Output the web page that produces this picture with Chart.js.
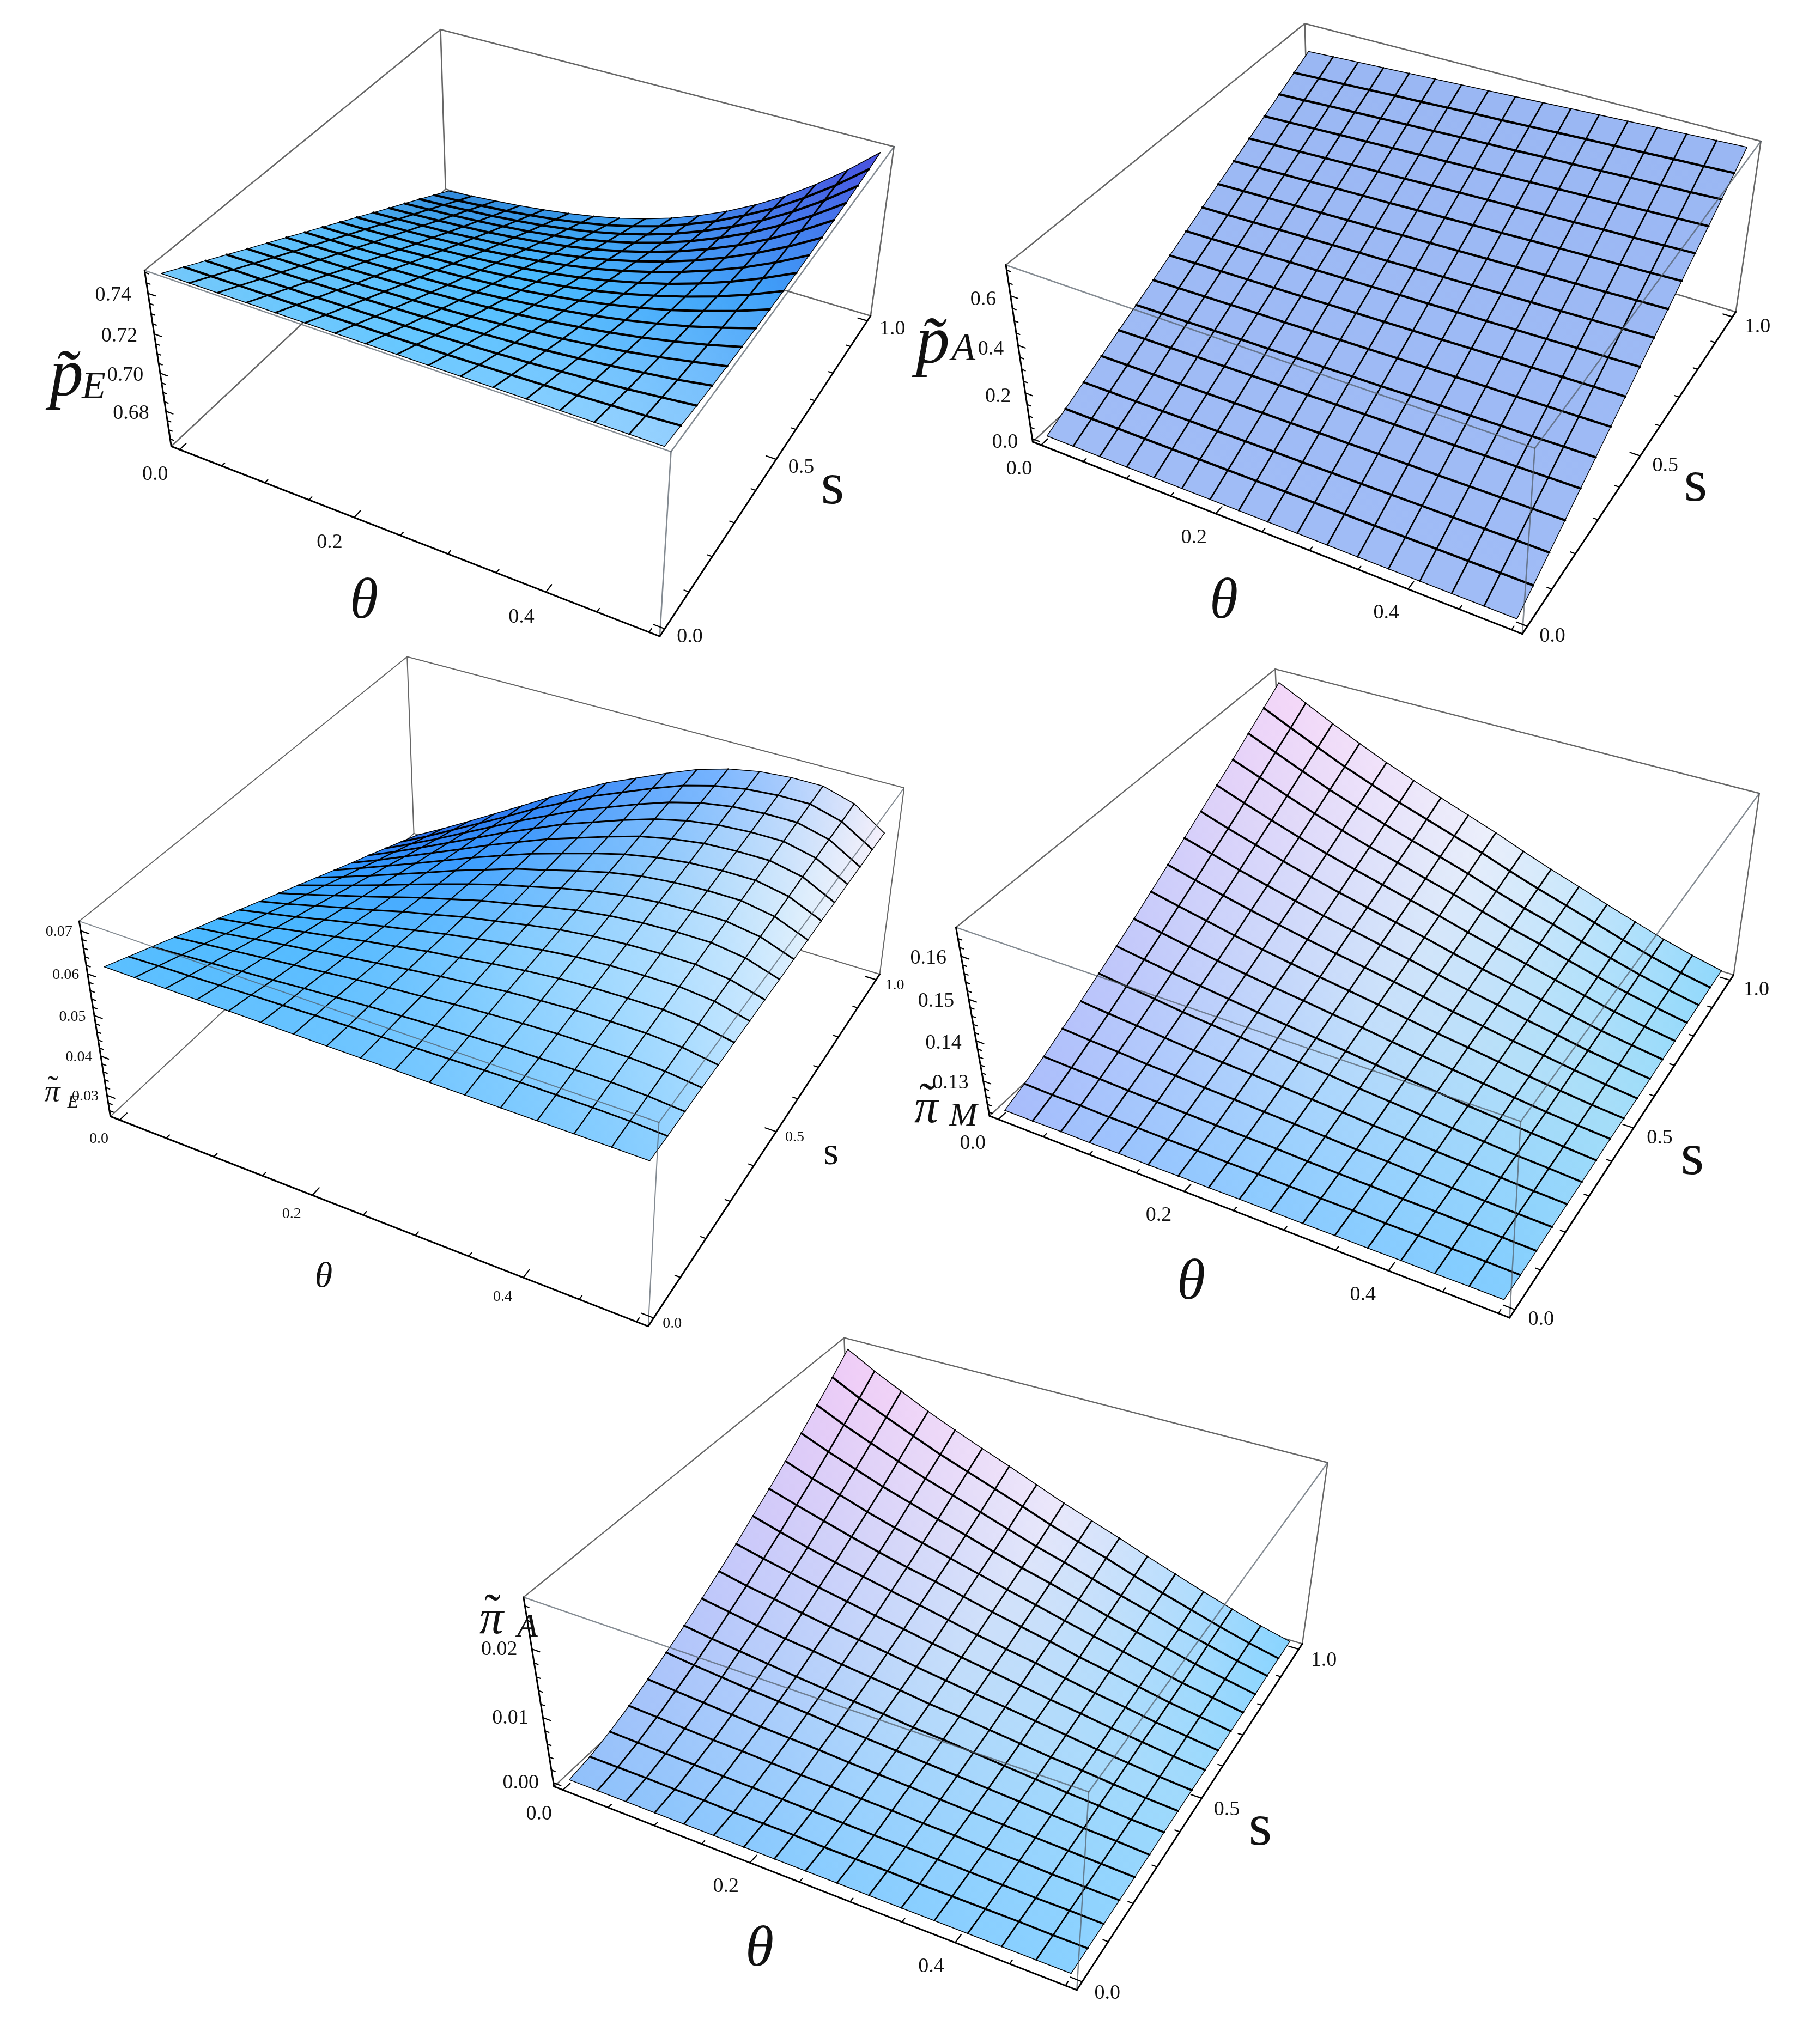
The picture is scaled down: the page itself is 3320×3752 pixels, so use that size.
<!DOCTYPE html>
<html>
<head>
<meta charset="utf-8">
<title>Surfaces</title>
<script src="https://cdn.jsdelivr.net/npm/chart.js@4"></script>
<style>
html, body { margin: 0; background: #fff; width: 3320px; height: 3752px; overflow: hidden; }
canvas { position: absolute; filter: blur(0.7px); }
</style>
</head>
<body>
<script>
"use strict"

// mesh positions, same for all five plots
const thetaGrid = [0, 0.03125, 0.0625, 0.09375, 0.125, 0.15625, 0.1875, 0.21875, 0.25, 0.28125, 0.3125, 0.34375, 0.375, 0.40625, 0.4375, 0.46875, 0.5]
const sGrid = [0, 0.0625, 0.125, 0.1875, 0.25, 0.3125, 0.375, 0.4375, 0.5, 0.5625, 0.625, 0.6875, 0.75, 0.8125, 0.875, 0.9375, 1]

const thetaMajor = [0, 0.2, 0.4]
const thetaMinor = [0.05, 0.1, 0.15, 0.25, 0.3, 0.35, 0.45, 0.5]
const sMajor = [0, 0.5, 1]
const sMinor = [0.1, 0.2, 0.3, 0.4, 0.6, 0.7, 0.8, 0.9]

// rows are s, columns are theta
const pEValues = [
	[.7483,.7483,.7483,.7483,.7483,.7483,.7483,.7483,.7483,.7483,.7483,.7483,.7483,.7483,.7483,.7483,.7483],
	[.7430,.7430,.7431,.7431,.7432,.7432,.7434,.7435,.7437,.7439,.7442,.7446,.7450,.7455,.7461,.7467,.7476],
	[.7377,.7378,.7378,.7379,.7380,.7382,.7384,.7387,.7391,.7396,.7402,.7409,.7418,.7428,.7439,.7453,.7468],
	[.7324,.7325,.7326,.7327,.7330,.7332,.7336,.7340,.7346,.7354,.7362,.7374,.7387,.7402,.7420,.7439,.7463],
	[.7271,.7272,.7274,.7276,.7278,.7283,.7287,.7293,.7301,.7312,.7324,.7338,.7356,.7376,.7400,.7428,.7458],
	[.7219,.7220,.7222,.7224,.7228,.7233,.7239,.7247,.7258,.7271,.7286,.7305,.7327,.7352,.7382,.7416,.7455],
	[.7166,.7168,.7171,.7174,.7179,.7184,.7191,.7201,.7214,.7230,.7249,.7271,.7298,.7329,.7364,.7406,.7452],
	[.7113,.7116,.7119,.7122,.7128,.7136,.7145,.7157,.7171,.7190,.7212,.7239,.7270,.7306,.7349,.7397,.7452],
	[.7060,.7063,.7067,.7072,.7079,.7087,.7097,.7111,.7129,.7150,.7175,.7206,.7243,.7285,.7333,.7388,.7452],
	[.7007,.7011,.7017,.7021,.7030,.7039,.7052,.7068,.7087,.7111,.7141,.7176,.7216,.7264,.7319,.7382,.7453],
	[.6954,.6959,.6965,.6972,.6981,.6991,.7006,.7024,.7046,.7073,.7106,.7146,.7192,.7245,.7305,.7375,.7455],
	[.6901,.6907,.6914,.6921,.6932,.6944,.6960,.6980,.7006,.7036,.7073,.7116,.7167,.7226,.7294,.7371,.7458],
	[.6848,.6855,.6863,.6872,.6883,.6898,.6916,.6938,.6965,.6999,.7039,.7087,.7143,.7207,.7282,.7367,.7463],
	[.6796,.6804,.6812,.6823,.6836,.6851,.6871,.6895,.6926,.6963,.7007,.7059,.7121,.7190,.7272,.7364,.7468],
	[.6743,.6751,.6762,.6773,.6788,.6805,.6827,.6854,.6887,.6927,.6975,.7032,.7098,.7174,.7262,.7362,.7475],
	[.6690,.6699,.6711,.6723,.6740,.6759,.6783,.6812,.6849,.6892,.6945,.7005,.7078,.7159,.7255,.7362,.7483],
	[.6637,.6648,.6661,.6675,.6693,.6714,.6740,.6772,.6811,.6858,.6914,.6980,.7057,.7145,.7247,.7362,.7492],
]

const pAValues = [
	[0,0,0,0,0,0,0,0,0,0,0,0,0,0,0,0,0],
	[.039,.039,.040,.040,.040,.041,.041,.041,.042,.042,.042,.042,.043,.043,.043,.044,.044],
	[.078,.079,.079,.080,.081,.081,.082,.083,.083,.084,.084,.085,.086,.086,.087,.088,.088],
	[.117,.118,.119,.120,.121,.122,.123,.124,.125,.126,.127,.128,.128,.129,.130,.131,.132],
	[.156,.158,.159,.160,.161,.163,.164,.165,.166,.168,.169,.170,.171,.173,.174,.175,.176],
	[.195,.197,.198,.200,.202,.203,.205,.206,.208,.209,.211,.213,.214,.216,.217,.219,.220],
	[.234,.236,.238,.240,.242,.243,.245,.247,.249,.251,.253,.255,.257,.258,.260,.262,.264],
	[.273,.276,.278,.280,.282,.284,.287,.289,.291,.293,.295,.298,.300,.302,.304,.306,.308],
	[.313,.315,.318,.320,.323,.325,.328,.330,.333,.335,.338,.340,.343,.345,.348,.350,.353],
	[.352,.354,.357,.360,.363,.366,.369,.371,.374,.377,.380,.383,.386,.388,.391,.394,.397],
	[.391,.394,.397,.400,.403,.406,.409,.413,.416,.419,.422,.425,.428,.431,.434,.438,.441],
	[.430,.433,.437,.440,.444,.447,.450,.454,.457,.461,.464,.468,.471,.474,.478,.481,.485],
	[.469,.473,.476,.480,.484,.488,.491,.495,.499,.503,.506,.510,.514,.518,.521,.525,.529],
	[.508,.512,.516,.520,.524,.528,.532,.536,.540,.544,.548,.552,.556,.560,.565,.569,.573],
	[.547,.551,.556,.560,.564,.569,.573,.578,.582,.586,.591,.595,.599,.604,.608,.612,.617],
	[.586,.591,.595,.600,.605,.609,.614,.619,.623,.628,.633,.638,.642,.647,.652,.656,.661],
	[.625,.630,.635,.640,.645,.650,.655,.660,.665,.670,.675,.680,.685,.690,.695,.700,.705],
]

const piEValues = [
	[.0610,.0610,.0610,.0610,.0610,.0610,.0610,.0610,.0610,.0610,.0610,.0610,.0610,.0610,.0610,.0610,.0610],
	[.0588,.0591,.0593,.0596,.0599,.0601,.0604,.0606,.0608,.0610,.0612,.0614,.0615,.0615,.0615,.0614,.0610],
	[.0566,.0571,.0576,.0582,.0587,.0593,.0598,.0603,.0607,.0611,.0615,.0618,.0619,.0620,.0620,.0617,.0611],
	[.0544,.0552,.0560,.0568,.0576,.0584,.0592,.0599,.0605,.0612,.0617,.0621,.0624,.0625,.0625,.0621,.0612],
	[.0522,.0532,.0543,.0554,.0564,.0575,.0585,.0595,.0604,.0612,.0620,.0625,.0629,.0630,.0630,.0625,.0612],
	[.0501,.0513,.0526,.0540,.0553,.0567,.0579,.0592,.0602,.0613,.0622,.0629,.0633,.0635,.0635,.0628,.0613],
	[.0479,.0494,.0509,.0526,.0542,.0558,.0573,.0588,.0601,.0613,.0624,.0633,.0638,.0640,.0640,.0632,.0613],
	[.0457,.0474,.0493,.0512,.0530,.0550,.0567,.0585,.0599,.0614,.0627,.0636,.0642,.0645,.0645,.0635,.0614],
	[.0435,.0455,.0476,.0497,.0519,.0541,.0561,.0581,.0597,.0614,.0629,.0640,.0647,.0650,.0650,.0639,.0614],
	[.0413,.0436,.0459,.0483,.0508,.0532,.0555,.0577,.0596,.0615,.0631,.0644,.0652,.0655,.0655,.0643,.0615],
	[.0391,.0416,.0442,.0469,.0496,.0524,.0549,.0574,.0594,.0615,.0634,.0648,.0656,.0660,.0660,.0646,.0615],
	[.0369,.0397,.0426,.0455,.0485,.0515,.0543,.0570,.0593,.0616,.0636,.0651,.0661,.0665,.0665,.0650,.0616],
	[.0347,.0377,.0409,.0441,.0473,.0506,.0536,.0566,.0591,.0616,.0639,.0655,.0666,.0670,.0670,.0654,.0616],
	[.0326,.0358,.0392,.0427,.0462,.0498,.0530,.0563,.0590,.0617,.0641,.0659,.0670,.0675,.0675,.0657,.0617],
	[.0304,.0339,.0375,.0413,.0451,.0489,.0524,.0559,.0588,.0617,.0643,.0663,.0675,.0680,.0680,.0661,.0617],
	[.0282,.0319,.0359,.0399,.0439,.0481,.0518,.0556,.0587,.0618,.0646,.0666,.0679,.0685,.0685,.0664,.0618],
	[.0260,.0300,.0342,.0385,.0428,.0472,.0512,.0552,.0585,.0618,.0648,.0670,.0684,.0690,.0690,.0668,.0618],
]

const piMValues = [
	[.1217,.1217,.1218,.1218,.1219,.1219,.1220,.1220,.1221,.1221,.1221,.1222,.1222,.1223,.1223,.1224,.1224],
	[.1235,.1233,.1233,.1231,.1231,.1230,.1230,.1229,.1229,.1228,.1227,.1227,.1226,.1226,.1225,.1225,.1224],
	[.1256,.1253,.1251,.1248,.1246,.1244,.1242,.1240,.1239,.1236,.1234,.1233,.1230,.1229,.1227,.1226,.1224],
	[.1280,.1275,.1271,.1266,.1263,.1259,.1256,.1252,.1249,.1245,.1241,.1239,.1235,.1232,.1229,.1227,.1225],
	[.1304,.1297,.1291,.1285,.1279,.1274,.1270,.1265,.1260,.1255,.1249,.1245,.1240,.1236,.1232,.1228,.1225],
	[.1330,.1321,.1313,.1304,.1297,.1290,.1284,.1278,.1272,.1264,.1258,.1252,.1246,.1240,.1234,.1230,.1225],
	[.1356,.1345,.1335,.1325,.1316,.1307,.1299,.1291,.1284,.1275,.1266,.1259,.1251,.1244,.1237,.1231,.1225],
	[.1383,.1370,.1357,.1345,.1334,.1324,.1315,.1305,.1296,.1285,.1275,.1266,.1257,.1248,.1239,.1232,.1226],
	[.1411,.1396,.1381,.1366,.1353,.1341,.1330,.1319,.1308,.1296,.1284,.1274,.1263,.1252,.1242,.1233,.1226],
	[.1439,.1421,.1404,.1388,.1373,.1359,.1346,.1334,.1321,.1307,.1293,.1281,.1268,.1257,.1245,.1235,.1226],
	[.1468,.1448,.1428,.1410,.1393,.1377,.1363,.1348,.1334,.1318,.1303,.1289,.1274,.1261,.1247,.1236,.1226],
	[.1497,.1474,.1453,.1432,.1413,.1395,.1379,.1363,.1347,.1329,.1312,.1297,.1281,.1265,.1250,.1238,.1227],
	[.1526,.1501,.1477,.1454,.1433,.1414,.1396,.1378,.1360,.1340,.1322,.1305,.1287,.1270,.1253,.1239,.1227],
	[.1555,.1529,.1502,.1477,.1454,.1432,.1413,.1393,.1374,.1352,.1331,.1313,.1293,.1274,.1256,.1241,.1227],
	[.1586,.1557,.1528,.1500,.1475,.1452,.1430,.1409,.1387,.1363,.1341,.1321,.1299,.1279,.1259,.1242,.1227],
	[.1616,.1584,.1553,.1523,.1496,.1470,.1447,.1424,.1401,.1375,.1351,.1329,.1306,.1283,.1262,.1243,.1228],
	[.1647,.1613,.1579,.1547,.1517,.1490,.1465,.1440,.1415,.1387,.1361,.1337,.1312,.1288,.1265,.1245,.1228],
]

const piAValues = [
	[0,0,0,0,0,0,0,0,0,0,0,0,0,0,0,0,0],
	[.0005,.0005,.0005,.0004,.0004,.0003,.0003,.0003,.0002,.0002,.0002,.0001,.0001,.0001,.0001,0,0],
	[.0014,.0013,.0012,.0011,.0010,.0009,.0008,.0007,.0006,.0005,.0005,.0004,.0003,.0002,.0001,.0001,0],
	[.0025,.0023,.0021,.0019,.0018,.0016,.0014,.0013,.0011,.0010,.0008,.0007,.0005,.0004,.0002,.0001,0],
	[.0038,.0035,.0032,.0029,.0026,.0024,.0022,.0019,.0017,.0015,.0012,.0010,.0008,.0006,.0004,.0002,0],
	[.0052,.0047,.0043,.0039,.0036,.0033,.0029,.0026,.0023,.0020,.0017,.0014,.0011,.0008,.0005,.0003,0],
	[.0067,.0061,.0056,.0051,.0046,.0042,.0038,.0034,.0029,.0026,.0022,.0018,.0014,.0010,.0007,.0003,.0001],
	[.0083,.0076,.0069,.0063,.0058,.0052,.0047,.0042,.0036,.0032,.0027,.0022,.0017,.0013,.0008,.0004,.0001],
	[.0100,.0091,.0084,.0076,.0069,.0063,.0057,.0050,.0044,.0038,.0033,.0027,.0021,.0015,.0010,.0005,.0001],
	[.0118,.0108,.0099,.0090,.0082,.0074,.0067,.0059,.0052,.0045,.0038,.0031,.0025,.0018,.0012,.0006,.0001],
	[.0137,.0125,.0114,.0104,.0095,.0086,.0078,.0069,.0060,.0052,.0045,.0036,.0028,.0021,.0013,.0007,.0001],
	[.0156,.0143,.0131,.0119,.0108,.0098,.0089,.0079,.0069,.0060,.0051,.0041,.0033,.0024,.0015,.0008,.0001],
	[.0176,.0161,.0148,.0134,.0122,.0111,.0100,.0089,.0078,.0068,.0057,.0047,.0037,.0027,.0017,.0009,.0001],
	[.0197,.0180,.0165,.0150,.0137,.0124,.0112,.0099,.0087,.0076,.0064,.0052,.0041,.0030,.0019,.0010,.0001],
	[.0219,.0200,.0183,.0167,.0152,.0138,.0124,.0110,.0096,.0084,.0071,.0058,.0046,.0033,.0022,.0011,.0002],
	[.0241,.0220,.0202,.0184,.0167,.0152,.0137,.0122,.0106,.0092,.0079,.0064,.0050,.0037,.0024,.0012,.0002],
	[.0264,.0241,.0221,.0201,.0183,.0166,.0150,.0133,.0116,.0101,.0086,.0070,.0055,.0040,.0026,.0013,.0002],
]

const serif = '"Liberation Serif"'

// corners are screen positions of the box: 000 100 110 001 101 111 011 in (theta, s, z)
const panels = [
	{
		rect: [0, 0, 1660, 1200],
		corners: [[314, 818], [1211, 1168], [1598, 581], [265, 498], [1232, 829], [1640, 268], [809, 54]],
		zRange: [0.661, 0.751], values: pEValues, digits: 2,
		zMajor: [0.68, 0.7, 0.72, 0.74],
		zMinor: [0.665, 0.67, 0.675, 0.685, 0.69, 0.695, 0.705, 0.71, 0.715, 0.725, 0.73, 0.735, 0.745, 0.75],
		colors: [
			["#74c8fa", "#6ac8ff", "#9cd4ff"],
			["#56bcfa", "#4abcff", "#3e9ef8"],
			["#2f86d8", "#3a9cf0", "#4a50e0"],
		],
		sWidth: 4.2, thetaWidth: 3, boxWidth: 2.6, tickFont: 38,
		thetaOffset: [-45, 46], sOffset: [46, 15], zOffset: [-64, 4],
		titles: [
			["p\u0303", 122, 692, 124, "italic"], ["E", 172, 712, 72, "italic"],
			["\u03b8", 668, 1106, 106, "italic"], ["s", 1528, 895, 110, "normal"],
		],
	},
	{
		rect: [1660, 0, 1660, 1200],
		corners: [[1895, 810], [2795, 1164], [3185, 573], [1846, 488], [2816, 822], [3232, 259], [2395, 43]],
		zRange: [-0.014, 0.72], values: pAValues, digits: 1,
		zMajor: [0, 0.2, 0.4, 0.6],
		zMinor: [0.05, 0.1, 0.15, 0.25, 0.3, 0.35, 0.45, 0.5, 0.55, 0.65, 0.7],
		colors: [
			["#a0bcf6", "#a0bcf6"],
			["#9ab7f3", "#9ab7f3"],
		],
		sWidth: 4.2, thetaWidth: 2.8, boxWidth: 2.6, tickFont: 38,
		thetaOffset: [-40, 44], sOffset: [46, 18], zOffset: [-50, 7],
		titles: [
			["p\u0303", 1712, 632, 124, "italic"], ["A", 1768, 642, 72, "italic"],
			["\u03b8", 2246, 1106, 106, "italic"], ["s", 3112, 890, 110, "normal"],
		],
	},
	{
		rect: [0, 1190, 1660, 1270],
		corners: [[202, 2047], [1191, 2435], [1614, 1790], [145, 1694], [1209, 2059], [1659, 1445], [748, 1205]],
		zRange: [0.0245, 0.0722], values: piEValues, digits: 2,
		zMajor: [0.03, 0.04, 0.05, 0.06, 0.07],
		zMinor: [0.026, 0.028, 0.032, 0.034, 0.036, 0.038, 0.042, 0.044, 0.046, 0.048, 0.052, 0.054, 0.056, 0.058, 0.062, 0.064, 0.066, 0.068],
		colors: [
			["#5cc0ff", "#66c2ff", "#78c8ff", "#84ccff"],
			["#40b4ff", "#58baff", "#98d6ff", "#bfe4ff"],
			["#2f9aff", "#3a9cff", "#8cc8fc", "#e6f2fc"],
			["#2868e8", "#2f80f4", "#70b0ff", "#f6f0fa"],
		],
		sWidth: 3, thetaWidth: 2.2, boxWidth: 2, tickFont: 28,
		thetaOffset: [-38, 35], sOffset: [34, 10], zOffset: [-40, 2],
		titles: [
			["\u03c0", 96, 2006, 58, "italic"], ["\u02dc", 97, 1999, 58, "normal"], ["E", 134, 2024, 34, "italic"],
			["\u03b8", 594, 2345, 66, "italic"], ["s", 1525, 2118, 72, "normal"],
		],
	},
	{
		rect: [1660, 1200, 1660, 1270],
		corners: [[1817, 2049], [2769, 2420], [3182, 1788], [1754, 1702], [2792, 2057], [3229, 1458], [2340, 1228]],
		zRange: [0.121, 0.1665], values: piMValues, digits: 2,
		zMajor: [0.13, 0.14, 0.15, 0.16],
		zMinor: [0.122, 0.124, 0.126, 0.128, 0.132, 0.134, 0.136, 0.138, 0.142, 0.144, 0.146, 0.148, 0.152, 0.154, 0.156, 0.158, 0.162, 0.164],
		colors: [
			["#a8bcfb", "#8ccaff", "#80ccff"],
			["#ccccfa", "#c8e0fa", "#a4def8"],
			["#f5d6f8", "#ecf0fb", "#90d8fc"],
		],
		sWidth: 3.6, thetaWidth: 2.8, boxWidth: 2.4, tickFont: 38,
		thetaOffset: [-47, 44], sOffset: [48, 18], zOffset: [-60, 4],
		titles: [
			["\u03c0", 1700, 2037, 88, "italic"], ["\u02dc", 1702, 2026, 88, "normal"], ["M", 1768, 2050, 62, "italic"],
			["\u03b8", 2186, 2356, 106, "italic"], ["s", 3106, 2126, 110, "normal"],
		],
	},
	{
		rect: [800, 2430, 1720, 1322],
		corners: [[1018, 3279], [1975, 3655], [2390, 3016], [960, 2933], [1999, 3286], [2437, 2687], [1549, 2455]],
		zRange: [-0.0006, 0.0272], values: piAValues, digits: 2,
		zMajor: [0, 0.01, 0.02],
		zMinor: [0.002, 0.004, 0.006, 0.008, 0.012, 0.014, 0.016, 0.018, 0.022, 0.024, 0.026],
		colors: [
			["#90c0fa", "#88ccff", "#88d0ff"],
			["#c4c8fa", "#c0dcfa", "#a0dafc"],
			["#f2ccf6", "#ece8fa", "#88d4ff"],
		],
		sWidth: 3.6, thetaWidth: 2.8, boxWidth: 2.4, tickFont: 38,
		thetaOffset: [-44, 44], sOffset: [46, 21], zOffset: [-60, 1],
		titles: [
			["\u03c0", 902, 2975, 88, "italic"], ["\u02dc", 904, 2964, 88, "normal"], ["A", 968, 2988, 62, "italic"],
			["\u03b8", 1394, 3580, 106, "italic"], ["s", 2313, 3357, 110, "normal"],
		],
	},
]

const cube = [[0, 0, 0], [1, 0, 0], [1, 1, 0], [0, 0, 1], [1, 0, 1], [1, 1, 1], [0, 1, 1]]

// least squares fit of a projective camera through the box corners
function fitCamera(corners) {
	const n = 11
	const ata = Array.from({ length: n }, () => new Array(n + 1).fill(0))
	function addRow(row, rhs) {
		for (let a = 0; a < n; a++) {
			for (let b = 0; b < n; b++) ata[a][b] += row[a] * row[b]
			ata[a][n] += row[a] * rhs
		}
	}
	cube.forEach((c, k) => {
		const [u, v, w] = c
		const x = corners[k][0] / 1000
		const y = corners[k][1] / 1000
		addRow([u, v, w, 1, 0, 0, 0, 0, -x * u, -x * v, -x * w], x)
		addRow([0, 0, 0, 0, u, v, w, 1, -y * u, -y * v, -y * w], y)
	})
	for (let i = 0; i < n; i++) {
		let pivot = i
		for (let r = i + 1; r < n; r++) if (Math.abs(ata[r][i]) > Math.abs(ata[pivot][i])) pivot = r
		const tmp = ata[i]
		ata[i] = ata[pivot]
		ata[pivot] = tmp
		for (let r = 0; r < n; r++) {
			if (r === i) continue
			const f = ata[r][i] / ata[i][i]
			for (let c = i; c <= n; c++) ata[r][c] -= f * ata[i][c]
		}
	}
	const m = ata.map((row, i) => row[n] / row[i])
	return (u, v, w) => {
		const d = m[8] * u + m[9] * v + m[10] * w + 1
		return {
			x: (1000 * (m[0] * u + m[1] * v + m[2] * w + m[3])) / d,
			y: (1000 * (m[4] * u + m[5] * v + m[6] * w + m[7])) / d,
		}
	}
}

function hex(c) {
	return [1, 3, 5].map((p) => parseInt(c.substr(p, 2), 16))
}

// colour at (t, s), both 0..1, from the panel's coarse colour table
function shade(table, t, s) {
	const rows = table.length - 1
	const cols = table[0].length - 1
	const r = Math.min(Math.floor(s * rows), rows - 1)
	const c = Math.min(Math.floor(t * cols), cols - 1)
	const fr = s * rows - r
	const fc = t * cols - c
	const out = [0, 1, 2].map((k) => {
		const low = hex(table[r][c])[k] * (1 - fc) + hex(table[r][c + 1])[k] * fc
		const high = hex(table[r + 1][c])[k] * (1 - fc) + hex(table[r + 1][c + 1])[k] * fc
		return Math.round(low * (1 - fr) + high * fr)
	})
	return `rgb(${out[0]},${out[1]},${out[2]})`
}

function lineSet(data, color, width) {
	return { data, showLine: true, fill: false, borderColor: color, borderWidth: width, pointRadius: 0, tension: 0, borderCapStyle: "round" }
}

function buildPanel(panel) {
	const [left, top, width, height] = panel.rect
	const canvas = document.createElement("canvas")
	canvas.width = width
	canvas.height = height
	canvas.style.left = left + "px"
	canvas.style.top = top + "px"
	canvas.style.width = width + "px"
	canvas.style.height = height + "px"
	document.body.appendChild(canvas)
	const ctx = canvas.getContext("2d")

	const camera = fitCamera(panel.corners)
	const [zMin, zMax] = panel.zRange
	const uOf = (theta) => (theta / 0.5 + 0.02) / 1.04
	const vOf = (s) => (s + 0.02) / 1.04
	const wOf = (z) => (z - zMin) / (zMax - zMin)
	const meshPoint = (i, j) => camera(uOf(thetaGrid[i]), vOf(sGrid[j]), wOf(panel.values[j][i]))

	const painted = []
	const gray = "#666"
	const edge = (a, b, color, w) => painted.push(lineSet([camera(...a), camera(...b)], color, w))

	// box edges behind the surface
	edge([0, 1, 0], [0, 0, 0], gray, panel.boxWidth)
	edge([0, 1, 0], [1, 1, 0], gray, panel.boxWidth)
	edge([0, 1, 0], [0, 1, 1], gray, panel.boxWidth)
	edge([0, 1, 1], [0, 0, 1], gray, panel.boxWidth)
	edge([0, 1, 1], [1, 1, 1], gray, panel.boxWidth)
	edge([1, 1, 0], [1, 1, 1], gray, panel.boxWidth)

	// surface cells, far ones first
	for (let j = sGrid.length - 2; j >= 0; j--) {
		for (let i = 0; i < thetaGrid.length - 1; i++) {
			const a = meshPoint(i, j)
			const b = meshPoint(i + 1, j)
			const c = meshPoint(i + 1, j + 1)
			const d = meshPoint(i, j + 1)
			const grad = ctx.createLinearGradient(a.x - left, a.y - top, c.x - left, c.y - top)
			grad.addColorStop(0, shade(panel.colors, i / 16, j / 16))
			grad.addColorStop(1, shade(panel.colors, (i + 1) / 16, (j + 1) / 16))
			painted.push({
				data: [a, b, c, d, a],
				showLine: true,
				fill: "shape",
				backgroundColor: grad,
				borderColor: grad,
				borderWidth: 0.6,
				pointRadius: 0,
				tension: 0,
			})
		}
	}

	// mesh lines
	sGrid.forEach((s, j) => {
		const outer = j === 0 || j === sGrid.length - 1
		painted.push(lineSet(thetaGrid.map((t, i) => meshPoint(i, j)), "#000", outer ? 1.6 : panel.sWidth))
	})
	thetaGrid.forEach((t, i) => {
		const outer = i === 0 || i === thetaGrid.length - 1
		painted.push(lineSet(sGrid.map((s, j) => meshPoint(i, j)), "#000", outer ? 1.4 : panel.thetaWidth))
	})

	// box edges in front of the surface
	const front = "rgba(80,90,100,0.7)"
	edge([0, 0, 1], [1, 0, 1], front, panel.boxWidth)
	edge([1, 0, 1], [1, 1, 1], front, panel.boxWidth)
	edge([1, 0, 1], [1, 0, 0], front, panel.boxWidth)

	// axes
	edge([0, 0, 0], [1, 0, 0], "#000", 3)
	edge([1, 0, 0], [1, 1, 0], "#000", 3)
	edge([0, 0, 0], [0, 0, 1], "#000", 3)

	// ticks
	const texts = []
	const size = panel.tickFont
	function tick(a, dir, len) {
		const b = [a[0] + dir[0] * len, a[1] + dir[1] * len, a[2] + dir[2] * len]
		painted.push(lineSet([camera(...a), camera(...b)], "#000", 2.2))
	}
	function tickLabel(a, value, digits, offset) {
		const p = camera(...a)
		texts.push({ text: value.toFixed(digits), x: p.x + offset[0], y: p.y + offset[1], font: `${size}px ${serif}` })
	}
	thetaMinor.forEach((t) => tick([uOf(t), 0, 0], [0, 1, 0], 0.009))
	sMinor.forEach((s) => tick([1, vOf(s), 0], [-1, 0, 0], 0.009))
	panel.zMinor.forEach((z) => tick([0, 0, wOf(z)], [1, 0, 0], 0.008))
	thetaMajor.forEach((t) => {
		tick([uOf(t), 0, 0], [0, 1, 0], 0.02)
		tickLabel([uOf(t), 0, 0], t, 1, panel.thetaOffset)
	})
	sMajor.forEach((s) => {
		tick([1, vOf(s), 0], [-1, 0, 0], 0.02)
		tickLabel([1, vOf(s), 0], s, 1, panel.sOffset)
	})
	panel.zMajor.forEach((z) => {
		tick([0, 0, wOf(z)], [1, 0, 0], 0.016)
		tickLabel([0, 0, wOf(z)], z, panel.digits, panel.zOffset)
	})
	panel.titles.forEach(([text, x, y, px, style]) => {
		texts.push({ text, x, y, font: `${style} ${px}px ${serif}` })
	})

	const textPlugin = {
		id: "panelText",
		afterDraw(chart) {
			const g = chart.ctx
			g.save()
			g.fillStyle = "#111"
			g.textAlign = "center"
			g.textBaseline = "middle"
			texts.forEach((t) => {
				g.font = t.font
				g.fillText(t.text, chart.scales.x.getPixelForValue(t.x), chart.scales.y.getPixelForValue(t.y))
			})
			g.restore()
		},
	}

	// Chart.js paints the last dataset first
	painted.reverse()

	return new Chart(ctx, {
		type: "scatter",
		data: { datasets: painted },
		plugins: [textPlugin],
		options: {
			responsive: false,
			animation: false,
			events: [],
			layout: { padding: 0 },
			plugins: { legend: { display: false }, tooltip: { enabled: false } },
			scales: {
				x: { type: "linear", display: false, min: left, max: left + width },
				y: { type: "linear", display: false, reverse: true, min: top, max: top + height },
			},
		},
	})
}

panels.forEach(buildPanel)
</script>
</body>
</html>
